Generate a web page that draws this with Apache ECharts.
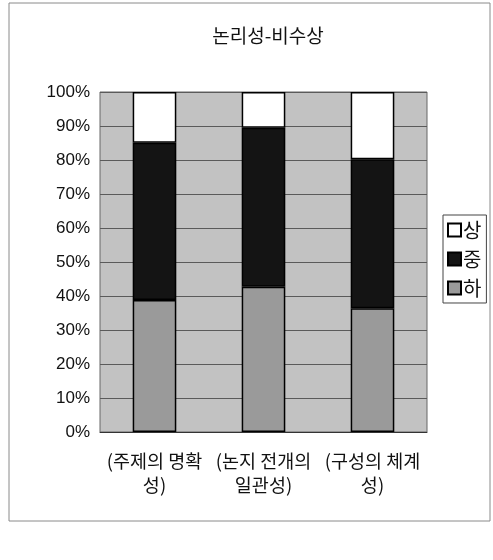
<!DOCTYPE html>
<html><head><meta charset="utf-8">
<script src="https://cdn.jsdelivr.net/npm/echarts@6/dist/echarts.min.js"></script>
<style>html,body{margin:0;padding:0;background:#fff}#c{width:493px;height:560px}</style>
</head><body><div id="c"></div>
<script>
const title = '논리성-비수상';
const categories = ['(주제의 명확\n성)', '(논지 전개의\n일관성)', '(구성의 체계\n성)'];
const seriesNames = ['하', '중', '상'];
const valuesLow = [38.8, 42.7, 36.4];
const valuesMid = [46.3, 46.8, 43.8];
const valuesHigh = [14.9, 10.5, 19.8];
const yTicks = [0, 10, 20, 30, 40, 50, 60, 70, 80, 90, 100];

const colors = {'하': '#9a9a9a', '중': '#141414', '상': '#ffffff'};
const dataMap = {'하': valuesLow, '중': valuesMid, '상': valuesHigh};
const KFONT = '"Noto Sans CJK KR", "Liberation Sans", sans-serif';

const chart = echarts.init(document.getElementById('c'), null, {renderer: 'canvas'});
chart.setOption({
  animation: false,
  backgroundColor: '#fff',
  title: {
    text: title, left: 263, top: 21, textAlign: 'center',
    textStyle: {fontFamily: KFONT, fontSize: 19, fontWeight: 'normal', color: '#111'}
  },
  graphic: [{
    type: 'rect', shape: {x: 9, y: 3, width: 481, height: 518},
    style: {fill: 'none', stroke: '#8a8a8a', lineWidth: 1}, silent: true, z: -1
  }],
  legend: {
    orient: 'vertical', left: 443, top: 215,
    data: ['상', '중', '하'],
    itemWidth: 13, itemHeight: 13, itemGap: 9,
    padding: [5, 5, 5, 4],
    borderColor: '#444', borderWidth: 1,
    icon: 'rect',
    textStyle: {fontFamily: KFONT, fontSize: 20, color: '#111', padding: [0, 0, 0, -3]}
  },
  grid: {left: 100, right: 66, top: 92, bottom: 128, show: true,
         backgroundColor: '#c2c2c2', borderColor: '#666', borderWidth: 1},
  xAxis: {
    type: 'category', data: categories,
    axisLine: {show: true, lineStyle: {color: '#333'}},
    axisTick: {show: false},
    axisLabel: {fontFamily: KFONT, fontSize: 18.5, color: '#111', margin: 17, lineHeight: 24, interval: 0}
  },
  yAxis: {
    type: 'value', min: 0, max: 100, interval: 10,
    axisLine: {show: false}, axisTick: {show: false},
    splitLine: {show: true, lineStyle: {color: '#5a5a5a', width: 1}},
    axisLabel: {
      fontFamily: '"Liberation Sans", sans-serif', fontSize: 17, color: '#111', margin: 10,
      formatter: v => (yTicks.indexOf(v) >= 0 ? v + '%' : '')
    }
  },
  series: seriesNames.map(n => ({
    name: n, type: 'bar', stack: 'total', barWidth: '40%',
    data: dataMap[n],
    itemStyle: {color: colors[n], borderColor: '#000', borderWidth: 1.5}
  }))
});
</script></body></html>
